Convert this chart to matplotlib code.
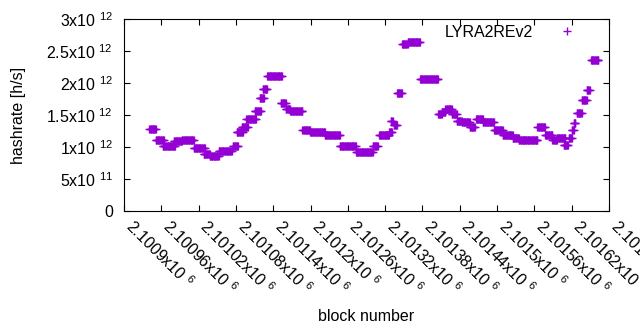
import matplotlib
matplotlib.use("Agg")
import matplotlib.pyplot as plt
import numpy as np

plt.rcParams['font.family'] = ['Liberation Sans', 'DejaVu Sans']
plt.rcParams['mathtext.fontset'] = 'custom'
plt.rcParams['mathtext.rm'] = 'Liberation Sans'
plt.rcParams['mathtext.it'] = 'Liberation Sans:italic'

BLOCK_BASE = 2100900

# plateaus: first block, last block (offset from BLOCK_BASE), hashrate in 1e12 h/s
seg_start = [41, 51, 62, 80, 93, 112, 128, 138, 152, 175, 181, 189, 197, 210, 218,
             223, 230, 252, 260, 267, 287, 299, 323, 347, 373, 400, 410, 426, 429, 434,
             439, 447, 456, 476, 505, 511, 517, 527, 535, 543, 556, 566, 577, 595, 609,
             625, 635, 644, 665, 677, 689, 696, 707, 715, 720, 723, 728, 736, 744, 751]
seg_end = [51, 64, 82, 93, 112, 130, 138, 152, 173, 183, 191, 199, 212, 220, 225,
           230, 254, 260, 267, 287, 299, 323, 347, 373, 400, 408, 426, 431, 432, 439,
           447, 456, 476, 505, 511, 517, 527, 535, 543, 556, 564, 577, 595, 609, 625,
           635, 644, 665, 677, 689, 696, 710, 714, 720, 723, 726, 736, 744, 749, 763]
seg_rate = [1.281, 1.117, 1.023, 1.086, 1.117, 0.977, 0.898, 0.859, 0.945, 1.023,
            1.234, 1.320, 1.430, 1.555, 1.758, 1.914, 2.102, 1.695, 1.586, 1.570,
            1.273, 1.227, 1.180, 1.008, 0.922, 1.008, 1.180, 1.242, 1.414, 1.344,
            1.836, 2.602, 2.648, 2.070, 1.516, 1.547, 1.594, 1.523, 1.414, 1.398,
            1.320, 1.430, 1.383, 1.273, 1.195, 1.148, 1.109, 1.102, 1.320, 1.188,
            1.117, 1.148, 1.031, 1.148, 1.266, 1.375, 1.531, 1.742, 1.891, 2.367]

x_ticks = [2100900 + 60 * i for i in range(14)]
x_labels = ['2.1009x10 $^{6}$', '2.10096x10 $^{6}$', '2.10102x10 $^{6}$', '2.10108x10 $^{6}$',
            '2.10114x10 $^{6}$', '2.1012x10 $^{6}$', '2.10126x10 $^{6}$', '2.10132x10 $^{6}$',
            '2.10138x10 $^{6}$', '2.10144x10 $^{6}$', '2.1015x10 $^{6}$', '2.10156x10 $^{6}$',
            '2.10162x10 $^{6}$', '2.10168x10 $^{6}$']
y_ticks = [0, 0.5e12, 1e12, 1.5e12, 2e12, 2.5e12, 3e12]
y_labels = ['0', '5x10 $^{11}$', '1x10 $^{12}$', '1.5x10 $^{12}$', '2x10 $^{12}$',
            '2.5x10 $^{12}$', '3x10 $^{12}$']

blocks = []
rates = []
for s, e, r in zip(seg_start, seg_end, seg_rate):
    b = np.arange(s, e + 1)
    blocks.extend(BLOCK_BASE + b)
    rates.extend([r * 1e12] * len(b))

FS = 11.5

fig = plt.figure(figsize=(6.4, 3.3), dpi=100)
ax = fig.add_axes([124 / 640, 1 - 211 / 330, (609 - 124) / 640, (211 - 19) / 330])
ax.plot(blocks, rates, linestyle='none', marker='+', color='#9400D3',
        markersize=5.5, markeredgewidth=1.0, label='LYRA2REv2')

ax.set_xlim(x_ticks[0], x_ticks[-1])
ax.set_ylim(0, 3e12)
ax.set_xticks(x_ticks)
ax.set_xticklabels(x_labels, rotation=-45, ha='left', va='baseline', rotation_mode='anchor')
ax.set_yticks(y_ticks)
ax.set_yticklabels(y_labels)
ax.tick_params(direction='in', length=4, width=0.8, top=True, right=True,
               labelsize=FS, colors='black')
ax.tick_params(axis='x', pad=12)
ax.tick_params(axis='y', pad=8)
for sp in ax.spines.values():
    sp.set_linewidth(0.8)

ax.set_xlabel('block number', fontsize=FS)
ax.xaxis.set_label_coords(0.5, -0.51)
ax.set_ylabel('hashrate [h/s]', fontsize=FS)
ax.yaxis.set_label_coords(-0.203, 0.5)

ax.legend(loc='upper right', bbox_to_anchor=(0.946, 0.969), frameon=False,
          markerfirst=False, fontsize=FS, handletextpad=1.1, borderaxespad=0,
          borderpad=0)

fig.savefig('out.png', dpi=100)
